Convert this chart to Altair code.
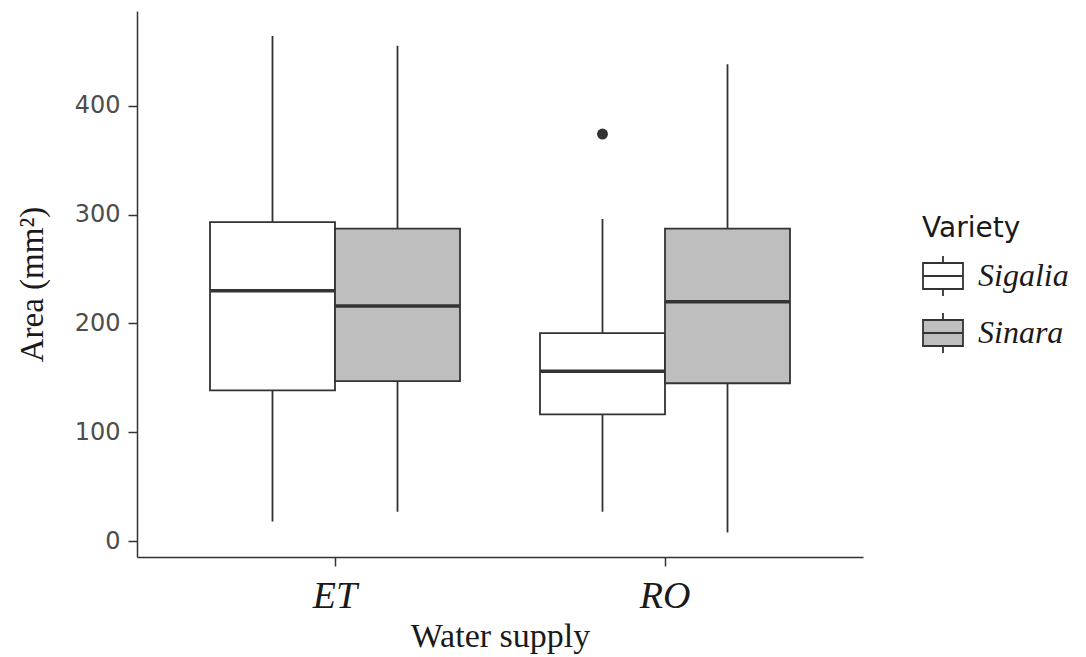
import altair as alt
import pandas as pd

# Box-plot summary values
supply = ["ET", "ET", "RO", "RO"]
variety = ["Sigalia", "Sinara", "Sigalia", "Sinara"]
lower = [18, 27, 27, 8]
q1 = [138.5, 147, 116.5, 145]
median = [230, 216, 156, 220]
q3 = [293, 287, 191, 287]
upper = [464, 455, 296, 438]

# Outliers
out_supply = ["RO"]
out_variety = ["Sigalia"]
out_value = [374]

y_ticks = [0, 100, 200, 300, 400]
variety_order = ["Sigalia", "Sinara"]
fills = ["#ffffff", "#bebebe"]

box = pd.DataFrame({"supply": supply, "variety": variety, "lower": lower,
                    "q1": q1, "median": median, "q3": q3, "upper": upper})
outl = pd.DataFrame({"supply": out_supply, "variety": out_variety, "value": out_value})

DARK = "#333333"

x_enc = alt.X("supply:N", sort=["ET", "RO"],
              scale=alt.Scale(paddingInner=0.2424, paddingOuter=0.2212),
              axis=alt.Axis(title="Water supply", labelAngle=0,
                            labelFont="Liberation Serif", labelFontStyle="italic",
                            labelFontSize=38, labelColor="#1a1a1a", labelPadding=11,
                            titleFont="Liberation Serif", titleFontSize=34,
                            titleFontWeight="normal", titleColor="#1a1a1a",
                            titlePadding=4, tickSize=9, tickColor=DARK, tickWidth=1.5,
                            domainColor=DARK, domainWidth=1.5, grid=False))
xo_enc = alt.XOffset("variety:N", sort=variety_order,
                     scale=alt.Scale(paddingInner=0, paddingOuter=0))
y_scale = alt.Scale(domain=[-14.6, 487], nice=False, zero=False)
y_axis = alt.Axis(title="Area (mm²)", values=y_ticks, grid=False,
                  labelFont="DejaVu Sans", labelFontSize=24, labelColor="#4d4d4d",
                  labelPadding=8, tickSize=9, tickColor=DARK, tickWidth=1.5,
                  domainColor=DARK, domainWidth=1.5,
                  titleFont="Liberation Serif", titleFontSize=33,
                  titleFontWeight="normal", titleColor="#1a1a1a", titlePadding=25)

base = alt.Chart(box)

whisk = base.mark_rule(color=DARK, strokeWidth=1.8).encode(
    x=x_enc, xOffset=xo_enc,
    y=alt.Y("lower:Q", scale=y_scale, axis=y_axis),
    y2="upper:Q")

boxes = base.mark_bar(stroke=DARK, strokeWidth=1.8, opacity=1).encode(
    x=x_enc, xOffset=xo_enc,
    y=alt.Y("q1:Q", scale=y_scale, axis=y_axis),
    y2="q3:Q",
    fill=alt.Fill("variety:N", sort=variety_order,
                  scale=alt.Scale(domain=variety_order, range=fills),
                  legend=alt.Legend(
                      title="Variety", orient="none", legendX=785, legendY=204,
                      titleFont="DejaVu Sans", titleFontSize=28,
                      titleFontWeight="normal", titleColor="#1a1a1a", titlePadding=12,
                      labelFont="Liberation Serif", labelFontStyle="italic",
                      labelFontSize=32, labelColor="#1a1a1a", labelOffset=14,
                      symbolType="M-1,-0.65H1V0.65H-1Z M-1,0H1 M0,-0.65V-1 M0,0.65V1",
                      symbolSize=1600, symbolStrokeColor=DARK, symbolStrokeWidth=1.8,
                      symbolOpacity=1, rowPadding=9)))

med = base.mark_tick(color=DARK, thickness=3.5, size=124, opacity=1).encode(
    x=x_enc, xOffset=xo_enc,
    y=alt.Y("median:Q", scale=y_scale, axis=y_axis))

pts = alt.Chart(outl).mark_point(filled=True, size=120, color=DARK, opacity=1).encode(
    x=x_enc, xOffset=xo_enc,
    y=alt.Y("value:Q", scale=y_scale, axis=y_axis))

chart = alt.layer(whisk, boxes, med, pts).properties(
    width=726, height=546,
    background="white",
    autosize=alt.AutoSizeParams(type="none"),
    padding={"left": 137, "top": 11, "right": 223, "bottom": 100},
).configure_view(stroke=None, strokeWidth=0)

chart.save("out.html", embed_options={"renderer": "svg", "actions": False})
